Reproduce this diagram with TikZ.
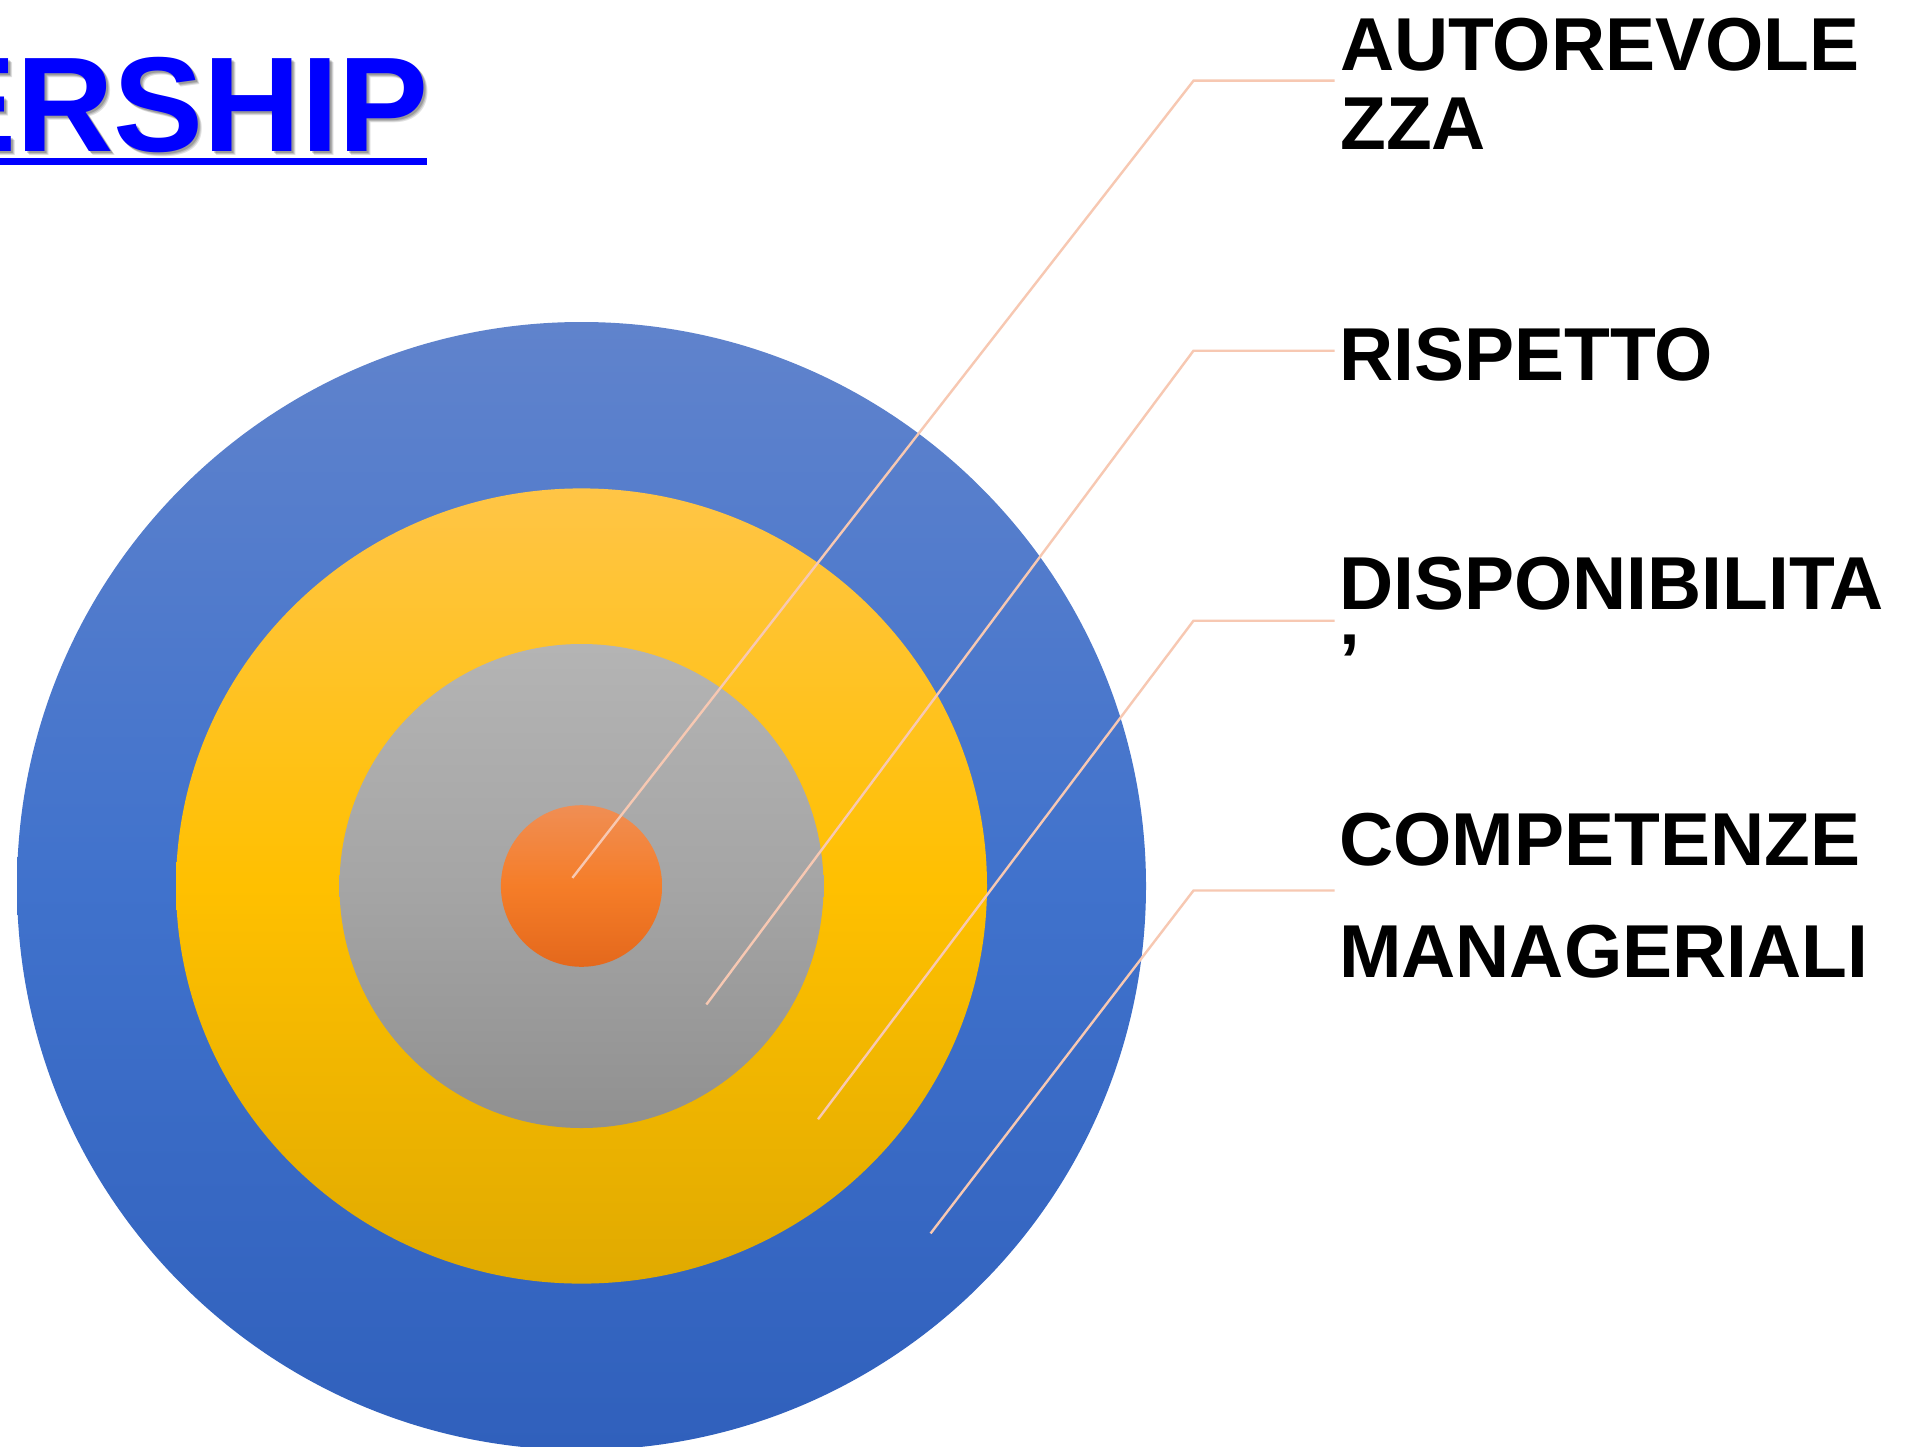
\documentclass[tikz,border=0pt]{standalone}
\usepackage{fontspec}
\setmainfont{Liberation Sans}
\definecolor{outTop}{RGB}{96,131,204}
\definecolor{outMid}{RGB}{64,114,204}
\definecolor{outBot}{RGB}{48,96,188}
\definecolor{yelTop}{RGB}{255,197,70}
\definecolor{yelMid}{RGB}{255,192,0}
\definecolor{yelBot}{RGB}{224,170,0}
\definecolor{gryTop}{RGB}{180,180,180}
\definecolor{gryMid}{RGB}{165,165,165}
\definecolor{gryBot}{RGB}{144,144,144}
\definecolor{orgTop}{RGB}{240,142,84}
\definecolor{orgMid}{RGB}{245,125,40}
\definecolor{orgBot}{RGB}{228,104,28}
\definecolor{leader}{RGB}{247,200,178}
\definecolor{titleblue}{RGB}{0,0,255}
\tikzset{
  lab/.style={inner sep=0pt, anchor=base west, text=black,
    font=\fontsize{75}{80}\selectfont\bfseries},
  leaderline/.style={draw=leader, line width=2.4pt},
  titlefont/.style={inner sep=0pt, anchor=base east,
    font=\fontsize{135}{140}\selectfont\bfseries}
}
\begin{document}
\begin{tikzpicture}[x=1pt,y=-1pt]
\useasboundingbox (0,0) rectangle (1908,1447);
\clip (0,0) rectangle (1908,1447);
\fill[white] (0,0) rectangle (1908,1447);

% title with soft shadow
\foreach \o/\op in {4/0.12,3/0.15,2/0.18}{
  \node[titlefont, text=black, opacity=\op] at (429+\o,151.7+\o) {ERSHIP};
}
\node (title) [titlefont, text=titleblue] at (429,151.7) {ERSHIP};
\fill[titleblue] (-10,158) rectangle (427,164.6);

% concentric circles
\path[top color=outTop, bottom color=outBot, middle color=outMid]
  (581.5,886) ellipse [x radius=564.5pt, y radius=564pt];
\path[top color=yelTop, bottom color=yelBot, middle color=yelMid]
  (581.5,886) ellipse [x radius=405.5pt, y radius=397.6pt];
\path[top color=gryTop, bottom color=gryBot, middle color=gryMid]
  (581.5,886) ellipse [x radius=242pt, y radius=242pt];
\path[top color=orgTop, bottom color=orgBot, middle color=orgMid]
  (581.5,886) ellipse [x radius=80.6pt, y radius=80.8pt];

% leader points
\coordinate (p1) at (572.4,877.9);
\coordinate (e1) at (1193.5,80.7);
\coordinate (h1) at (1334.5,80.7);
\coordinate (p2) at (706.4,1004.5);
\coordinate (e2) at (1193.5,350.7);
\coordinate (h2) at (1334.5,350.7);
\coordinate (p3) at (818,1119.3);
\coordinate (e3) at (1193.5,620.7);
\coordinate (h3) at (1334.5,620.7);
\coordinate (p4) at (930.6,1233.4);
\coordinate (e4) at (1193.5,890.5);
\coordinate (h4) at (1334.5,890.5);

\draw[leaderline] (p1) -- (e1) -- (h1);
\draw[leaderline] (p2) -- (e2) -- (h2);
\draw[leaderline] (p3) -- (e3) -- (h3);
\draw[leaderline] (p4) -- (e4) -- (h4);

% labels
\node (l1a) [lab] at (1340,70.7) {AUTOREVOLE};
\node (l1b) [lab] at (1340,150) {ZZA};
\node (l2)  [lab] at (1339,380) {RISPETTO};
\node (l3a) [lab] at (1339,609) {DISPONIBILITA};
\node (l3b) [lab] at (1339,686) {’};
\node (l4a) [lab] at (1339,865.7) {COMPETENZE};
\node (l4b) [lab] at (1339,977.3) {MANAGERIALI};
\end{tikzpicture}
\end{document}
